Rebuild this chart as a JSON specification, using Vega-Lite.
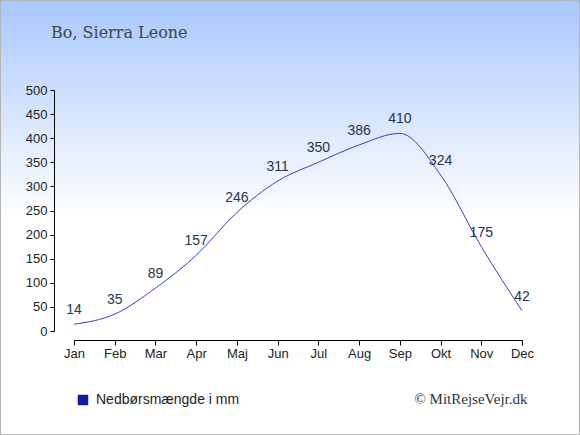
{
  "$schema": "https://vega.github.io/schema/vega-lite/v6.json",
  "description": "Nedbør i Bo, Sierra Leone",
  "width": 580,
  "height": 435,
  "autosize": "none",
  "padding": 0,
  "background": "#ffffff",
  "title": {
    "text": "Bo, Sierra Leone",
    "anchor": "start",
    "frame": "group",
    "orient": "top",
    "offset": 0,
    "dx": 51,
    "dy": 54,
    "baseline": "alphabetic",
    "font": "DejaVu Serif",
    "fontSize": 16,
    "fontWeight": "normal",
    "color": "#444444"
  },
  "data": {
    "values": [
      {"maaned": "Jan", "mm": 14, "serie": "Nedbørsmængde i mm"},
      {"maaned": "Feb", "mm": 35, "serie": "Nedbørsmængde i mm"},
      {"maaned": "Mar", "mm": 89, "serie": "Nedbørsmængde i mm"},
      {"maaned": "Apr", "mm": 157, "serie": "Nedbørsmængde i mm"},
      {"maaned": "Maj", "mm": 246, "serie": "Nedbørsmængde i mm"},
      {"maaned": "Jun", "mm": 311, "serie": "Nedbørsmængde i mm"},
      {"maaned": "Jul", "mm": 350, "serie": "Nedbørsmængde i mm"},
      {"maaned": "Aug", "mm": 386, "serie": "Nedbørsmængde i mm"},
      {"maaned": "Sep", "mm": 410, "serie": "Nedbørsmængde i mm"},
      {"maaned": "Okt", "mm": 324, "serie": "Nedbørsmængde i mm"},
      {"maaned": "Nov", "mm": 175, "serie": "Nedbørsmængde i mm"},
      {"maaned": "Dec", "mm": 42, "serie": "Nedbørsmængde i mm"}
    ]
  },
  "encoding": {
    "x": {
      "field": "maaned",
      "type": "ordinal",
      "sort": null,
      "scale": {"type": "point", "range": [74, 522], "padding": 0},
      "axis": {
        "title": "© MitRejseVejr.dk",
        "titleX": 527,
        "titleY": 63,
        "titleAlign": "right",
        "titleAnchor": null,
        "titleBaseline": "alphabetic",
        "titleFont": "Liberation Serif",
        "titleFontSize": 15,
        "titleFontWeight": "normal",
        "titleColor": "#333333",
        "offset": -95,
        "labelAngle": 0,
        "grid": false
      }
    },
    "y": {
      "field": "mm",
      "type": "quantitative",
      "scale": {"domain": [0, 500], "range": [331, 90], "nice": false, "zero": true},
      "axis": {
        "title": null,
        "values": [0, 50, 100, 150, 200, 250, 300, 350, 400, 450, 500],
        "offset": -54,
        "grid": false,
        "tickSize": 4,
        "labelPadding": 3
      }
    }
  },
  "layer": [
    {
      "mark": {"type": "line", "interpolate": "monotone", "strokeWidth": 1},
      "encoding": {
        "color": {
          "field": "serie",
          "type": "nominal",
          "scale": {"range": ["#3a3ad2"]},
          "legend": {
            "title": null,
            "orient": "none",
            "legendX": 76,
            "legendY": 393,
            "symbolType": "square",
            "symbolSize": 110,
            "labelFontSize": 14,
            "labelFont": "Liberation Sans",
            "labelColor": "#222222",
            "labelOffset": 6,
            "encode": {
              "symbols": {
                "update": {
                  "fill": {"value": "#0c1aa8"},
                  "stroke": {"value": "#0c1aa8"},
                  "strokeWidth": {"value": 0}
                }
              }
            }
          }
        }
      }
    },
    {
      "mark": {
        "type": "text",
        "dy": -14,
        "dx": 0,
        "baseline": "middle",
        "font": "Liberation Sans",
        "fontSize": 14,
        "color": "#26334f"
      },
      "encoding": {"text": {"field": "mm", "type": "quantitative"}}
    }
  ],
  "config": {
    "view": {
      "fill": {
        "gradient": "linear",
        "x1": 0,
        "y1": 0,
        "x2": 0,
        "y2": 1,
        "stops": [
          {"offset": 0, "color": "#a8c8fe"},
          {"offset": 0.5, "color": "#ffffff"},
          {"offset": 1, "color": "#ffffff"}
        ]
      },
      "stroke": "#b4b4b4",
      "strokeWidth": 2
    },
    "axis": {
      "labelFont": "Liberation Sans",
      "labelFontSize": 13,
      "labelColor": "#222222",
      "domainColor": "#000000",
      "tickColor": "#000000",
      "domainWidth": 1,
      "tickWidth": 1
    }
  }
}
